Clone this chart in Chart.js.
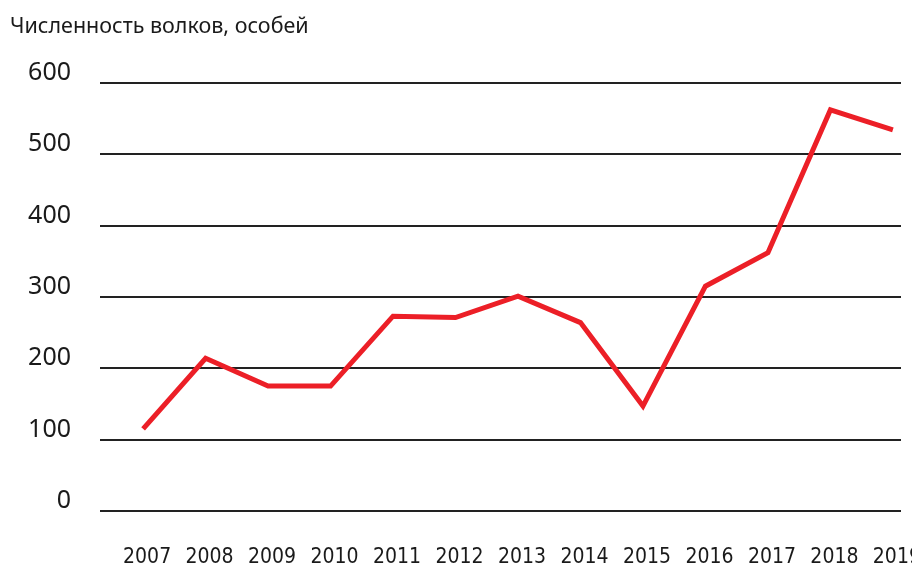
<!DOCTYPE html>
<html lang="ru">
<head>
<meta charset="utf-8">
<title>Численность волков</title>
<script src="https://cdn.jsdelivr.net/npm/chart.js@4"></script>
<style>
    html, body { margin: 0; padding: 0; background: #ffffff; }
    #wrap { width: 912px; height: 570px; position: relative; }
</style>
</head>
<body>
<div id="wrap"><canvas id="wolvesChart"></canvas></div>
<script>
const years = [2007, 2008, 2009, 2010, 2011, 2012, 2013, 2014, 2015, 2016, 2017, 2018, 2019];
const wolves = [115, 214, 175, 175, 273, 271, 301, 264, 147, 315, 362, 562, 534];
const yTicks = [0, 100, 200, 300, 400, 500, 600];
const titleText = "Численность волков, особей";

document.addEventListener("DOMContentLoaded", function () {
    const ctx = document.getElementById("wolvesChart");

    const points = years.map(function (year, i) {
        return { x: year, y: wolves[i] };
    });

    new Chart(ctx, {
        type: 'line',
        data: {
            datasets: [{
                label: titleText,
                data: points,
                borderColor: '#ec1f27',
                borderWidth: 5,
                borderJoinStyle: 'miter',
                borderCapStyle: 'butt',
                tension: 0,
                pointRadius: 0,
                fill: false
            }]
        },
        options: {
            responsive: true,
            maintainAspectRatio: false,
            animation: false,
            layout: {
                padding: { top: 14, right: 11, left: 10, bottom: 0 }
            },
            plugins: {
                legend: { display: false },
                tooltip: { enabled: false },
                title: {
                    display: true,
                    text: titleText,
                    align: 'start',
                    color: '#1a1a1a',
                    font: { family: "'Noto Sans', sans-serif", size: 21.5, weight: 'normal' },
                    padding: { top: 0, bottom: 43 }
                }
            },
            scales: {
                x: {
                    type: 'linear',
                    min: 2006.31,
                    max: 2019.13,
                    grid: { display: false },
                    border: { display: false },
                    afterBuildTicks: function (scale) {
                        scale.ticks = years.map(function (y) { return { value: y }; });
                    },
                    afterFit: function (scale) {
                        scale.paddingLeft = 0;
                        scale.paddingRight = 0;
                        scale.height = 59;
                    },
                    ticks: {
                        autoSkip: false,
                        maxRotation: 0,
                        padding: 26,
                        labelOffset: 4,
                        color: '#1a1a1a',
                        font: { family: "'DejaVu Sans Condensed', sans-serif", size: 21 },
                        callback: function (value) { return String(value); }
                    }
                },
                y: {
                    min: 0,
                    max: 600,
                    afterBuildTicks: function (scale) {
                        scale.ticks = yTicks.map(function (v) { return { value: v }; });
                    },
                    afterFit: function (scale) {
                        scale.width = 90;
                    },
                    border: { display: false },
                    grid: {
                        color: '#222222',
                        lineWidth: 2,
                        drawTicks: false
                    },
                    ticks: {
                        padding: 29,
                        labelOffset: -10,
                        color: '#1a1a1a',
                        font: { family: "'Noto Sans', sans-serif", size: 25 }
                    }
                }
            }
        }
    });
});
</script>
</body>
</html>
